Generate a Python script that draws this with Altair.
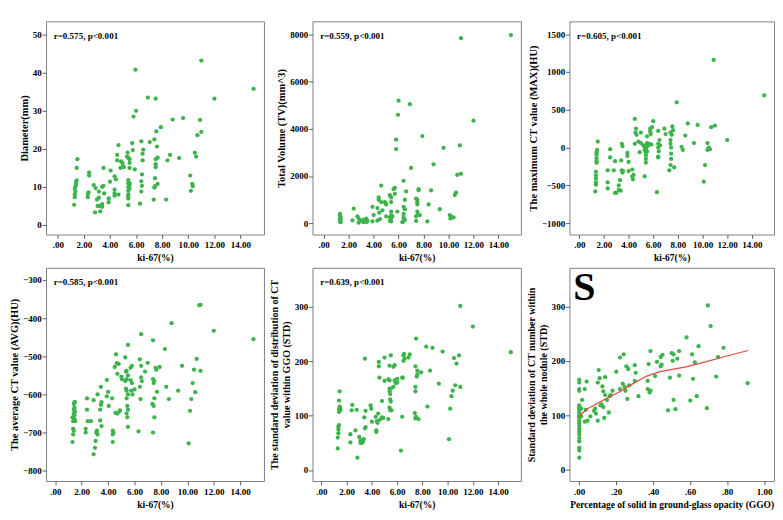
import altair as alt
import pandas as pd

# ---------------- data ----------------
KI67_TICKS = [0, 2, 4, 6, 8, 10, 12, 14]
GGO_TICKS = [0, 0.2, 0.4, 0.6, 0.8, 1.0]

DIAMETER = [(1.25,5.3),(1.3,7.3),(1.3,8.0),(1.35,8.8),(1.3,9.5),(1.35,10.2),(1.4,10.8),(1.4,11.3),(1.45,11.7),(1.45,15.0),(1.5,17.3),
(2.3,7.3),(2.3,8.0),(2.35,8.6),(2.4,13.0),(2.4,13.8),(2.75,10.5),(2.85,3.3),(2.9,9.7),(3.0,6.7),(3.05,5.0),
(3.15,8.8),(3.15,7.2),(3.2,5.0),(3.25,3.6),(3.4,10.0),(3.4,5.5),(3.4,4.8),(3.5,15.0),(3.5,10.3),(3.55,8.3),
(3.9,7.0),(3.9,6.0),(4.0,11.4),(4.05,14.3),(4.35,12.8),(4.35,9.3),(4.35,8.3),(4.35,7.7),(4.45,12.0),
(4.55,18.4),(4.55,17.0),(4.65,21.0),(4.65,8.0),(4.8,15.0),(4.85,16.7),(4.95,16.3),(5.0,15.5),(5.05,15.2),
(5.3,18.0),(5.35,19.0),(5.4,17.7),(5.4,11.8),(5.4,11.0),(5.4,10.0),(5.4,9.0),(5.4,8.0),(5.4,7.5),(5.4,7.0),(5.4,5.2),
(5.5,17.3),(5.5,16.3),(5.5,15.0),(5.5,11.0),(5.5,10.5),(5.5,9.5),(5.7,21.5),(5.75,19.7),(5.8,28.5),(5.9,14.6),
(6.0,30.0),(5.95,40.8),(6.3,5.6),(6.4,22.0),(6.45,13.3),(6.4,11.5),(6.45,10.3),(6.4,8.8),(6.55,19.8),(6.5,18.7),(6.5,17.0),
(6.9,33.5),(7.05,21.8),(7.35,6.7),(7.4,22.5),(7.45,12.3),(7.45,10.2),(7.4,9.8),(7.5,33.2),(7.55,24.6),(7.5,17.3),
(7.5,16.0),(7.5,15.2),(7.6,20.6),(7.65,17.7),(7.65,10.8),(7.9,25.7),(8.3,6.7),(8.4,17.0),(8.6,18.4),(8.8,27.7),
(9.3,17.6),(9.6,28.1),(10.15,13.0),(10.2,9.0),(10.3,10.8),(10.35,10.2),(10.5,19.0),(10.6,18.0),(10.7,23.6),
(10.9,27.6),(11.0,43.2),(11.0,24.5),(12.0,33.2),(15.0,35.8)]

VOLUME = [(1.3,400),(1.3,330),(1.35,280),(1.35,230),(1.3,170),(1.35,120),(1.3,80),(1.35,50),
(2.3,130),(2.4,620),(2.7,300),(2.8,200),(2.8,30),(3.0,100),(3.15,150),(3.2,80),(3.2,50),(3.3,100),(3.4,200),
(3.4,150),(3.45,60),(3.5,120),(3.9,700),(3.9,80),(4.0,350),(4.3,650),(4.3,120),(4.4,1100),(4.4,1000),(4.45,450),
(4.5,180),(4.6,1600),(4.6,900),(4.7,550),(4.9,900),(4.95,850),(5.0,800),(5.0,300),(5.3,1200),(5.35,1150),
(5.3,250),(5.3,100),(5.4,1100),(5.4,900),(5.4,500),(5.4,350),(5.4,200),(5.4,80),(5.5,300),(5.6,1450),(5.7,1500),
(5.7,1250),(5.8,3550),(5.8,3150),(5.9,500),(5.95,4600),(6.0,5200),(6.3,50),(6.4,1800),(6.4,700),(6.4,400),
(6.4,250),(6.4,100),(6.5,1000),(6.5,600),(6.5,150),(6.6,1350),(6.9,5050),(7.0,2350),(7.4,1050),(7.4,300),
(7.4,100),(7.5,1000),(7.5,900),(7.5,800),(7.5,500),(7.5,350),(7.6,1450),(7.6,1400),(7.7,350),(7.9,3700),
(8.3,80),(8.4,800),(8.6,1400),(8.8,2500),(9.3,600),(9.6,3200),(10.1,350),(10.15,200),(10.2,300),(10.4,250),
(10.5,1200),(10.6,1300),(10.7,2050),(10.9,3300),(11.0,7850),(11.0,2100),(12.0,4350),(15.0,7980)]

MAXCT = [(1.3,-580),(1.35,-490),(1.35,-460),(1.35,-410),(1.35,-370),(1.35,-320),(1.4,-200),(1.4,-180),(1.4,-140),
(1.4,-90),(1.4,-60),(1.45,-30),(1.5,80),(2.3,-300),(2.3,-460),(2.3,-540),(2.5,-130),(2.5,-20),(2.8,-300),
(2.9,-180),(2.9,-600),(3.0,-600),(3.2,-560),(3.2,-500),(3.3,-430),(3.35,-570),(3.4,-170),(3.45,-300),(3.45,50),
(3.5,20),(3.5,-330),(3.55,-310),(3.9,-70),(3.9,-110),(4.0,-190),(4.0,-310),(4.3,-290),(4.3,-380),(4.35,-420),
(4.4,-360),(4.5,380),(4.55,200),(4.5,50),(4.6,250),(4.65,170),(4.8,80),(4.9,-60),(5.0,200),(5.0,60),(5.2,30),
(5.3,-380),(5.3,10),(5.3,-30),(5.4,-200),(5.4,-150),(5.4,-100),(5.4,-60),(5.4,-20),(5.4,0),(5.4,20),(5.45,40),
(5.5,150),(5.5,60),(5.5,-50),(5.55,20),(5.7,50),(5.75,210),(5.75,250),(5.8,180),(5.85,40),(5.9,270),(6.0,350),
(6.3,-590),(6.4,220),(6.4,50),(6.4,0),(6.45,-50),(6.4,-120),(6.4,-130),(6.5,100),(6.55,30),(6.9,250),(7.0,180),
(7.3,-300),(7.4,200),(7.4,100),(7.4,50),(7.45,0),(7.45,-80),(7.45,-150),(7.4,-230),(7.55,280),(7.5,170),
(7.7,-260),(7.6,230),(7.9,600),(8.3,10),(8.4,-30),(8.6,160),(8.8,320),(9.3,60),(9.6,300),(10.1,-450),(10.2,-230),
(10.4,60),(10.4,-30),(10.5,0),(10.6,-20),(10.7,270),(10.9,1160),(11.0,290),(12.0,100),(15.0,690)]

AVGCT = [(1.3,-725),(1.35,-705),(1.35,-690),(1.35,-670),(1.3,-660),(1.4,-695),(1.4,-650),(1.4,-640),(1.4,-625),
(1.45,-620),(1.45,-635),(1.45,-655),(1.45,-665),(1.5,-620),(1.5,-645),(1.5,-670),(2.3,-690),(2.3,-700),(2.4,-610),
(2.4,-640),(2.45,-670),(2.7,-670),(2.9,-615),(2.9,-757),(3.0,-740),(3.05,-722),(3.1,-700),(3.15,-695),(3.2,-705),
(3.2,-600),(3.4,-668),(3.4,-640),(3.45,-627),(3.45,-580),(3.5,-620),(3.5,-683),(3.9,-562),(3.9,-605),(4.0,-593),
(4.05,-630),(4.3,-610),(4.35,-695),(4.35,-705),(4.35,-725),(4.4,-700),(4.5,-528),(4.55,-648),(4.6,-495),
(4.65,-518),(4.7,-546),(4.7,-650),(4.8,-520),(4.85,-645),(4.9,-642),(5.0,-553),(5.05,-560),(5.3,-503),(5.35,-540),
(5.3,-565),(5.35,-585),(5.4,-538),(5.4,-560),(5.4,-590),(5.4,-610),(5.45,-630),(5.4,-650),(5.45,-660),(5.5,-470),
(5.5,-550),(5.5,-600),(5.5,-640),(5.5,-685),(5.7,-530),(5.7,-563),(5.75,-590),(5.8,-525),(5.8,-570),(5.85,-600),
(6.0,-587),(6.3,-697),(6.4,-508),(6.4,-580),(6.45,-612),(6.5,-442),(6.5,-525),(6.5,-555),(6.55,-565),(6.8,-540),
(7.0,-517),(7.35,-625),(7.4,-458),(7.4,-560),(7.45,-570),(7.45,-630),(7.4,-700),(7.5,-565),(7.5,-610),(7.5,-660),
(7.6,-530),(7.65,-535),(7.7,-593),(7.9,-528),(8.3,-481),(8.4,-580),(8.6,-612),(8.8,-413),(9.3,-590),(9.6,-525),
(10.1,-728),(10.2,-643),(10.3,-612),(10.4,-570),(10.5,-535),(10.6,-594),(10.7,-507),(10.9,-366),(11.0,-365),
(11.0,-538),(12.0,-433),(15.0,-455)]

STD_GGO = [(1.3,40),(1.3,60),(1.35,68),(1.35,75),(1.35,80),(1.4,83),(1.4,107),(1.4,112),(1.45,117),(1.4,128),
(1.45,145),(1.5,110),(1.5,113),(2.3,51),(2.3,66),(2.4,110),(2.45,120),(2.7,73),(2.8,111),(2.85,23),(3.0,61),
(3.1,50),(3.1,55),(3.2,52),(3.2,50),(3.3,52),(3.35,57),(3.4,97),(3.45,205),(3.45,77),(3.5,109),(3.5,79),(3.9,119),
(3.95,113),(4.0,89),(4.3,98),(4.35,73),(4.35,70),(4.4,90),(4.45,87),(4.5,104),(4.55,199),(4.55,191),(4.6,170),
(4.65,93),(4.8,127),(4.8,97),(4.9,96),(5.0,207),(5.0,164),(5.3,94),(5.3,167),(5.4,192),(5.4,165),(5.4,150),
(5.4,145),(5.45,140),(5.45,130),(5.4,115),(5.45,110),(5.5,211),(5.5,150),(5.5,126),(5.55,110),(5.7,190),
(5.7,153),(5.8,193),(5.8,165),(5.9,160),(6.0,168),(6.0,161),(6.3,36),(6.4,170),(6.4,98),(6.5,211),(6.55,214),
(6.45,170),(6.5,201),(6.6,205),(6.9,207),(7.0,213),(7.4,105),(7.5,242),(7.45,191),(7.45,153),(7.45,145),
(7.45,95),(7.5,98),(7.6,183),(7.6,176),(7.55,172),(7.7,94),(7.9,180),(8.3,227),(8.4,117),(8.6,183),(8.8,225),
(9.3,159),(9.6,218),(10.1,57),(10.2,113),(10.3,136),(10.4,146),(10.5,206),(10.6,156),(10.7,196),(10.9,211),
(11.0,302),(11.0,153),(12.0,264),(15.0,217)]

STD_WHOLE = [(0,22),(0,35),(0,40),(0,52),(0,58),(0,65),(0,70),(0,75),(0,80),(0,85),(0,90),(0,95),(0,98),(0,100),
(0,105),(0,110),(0,112),(0,115),(0,118),(0,145),(0,148),(0,160),(0,165),
(0.01,112),(0.015,128),(0.01,98),(0.03,88),(0.035,110),(0.03,148),(0.045,90),(0.04,162),(0.06,98),(0.08,108),
(0.085,112),(0.09,103),(0.1,90),(0.1,160),(0.105,183),(0.11,168),(0.115,118),(0.12,120),(0.125,153),(0.13,144),
(0.13,115),(0.135,95),(0.14,137),(0.14,170),(0.15,128),(0.16,105),(0.165,135),(0.17,137),(0.18,145),(0.2,180),
(0.22,148),(0.22,206),(0.235,158),(0.24,212),(0.245,152),(0.25,145),(0.255,190),(0.26,130),(0.265,185),
(0.27,155),(0.3,163),(0.3,192),(0.305,178),(0.32,135),(0.37,148),(0.37,163),(0.375,194),(0.38,142),(0.385,145),
(0.385,218),(0.41,172),(0.42,198),(0.44,190),(0.445,193),(0.44,207),(0.45,211),(0.48,109),(0.49,169),(0.5,214),
(0.505,200),(0.51,128),(0.51,212),(0.52,111),(0.53,204),(0.54,218),(0.54,173),(0.58,243),(0.6,127),(0.61,212),
(0.615,167),(0.625,197),(0.635,135),(0.645,227),(0.69,113),(0.695,302),(0.71,264),(0.74,171),(0.75,207),
(0.78,224),(0.91,159)]

FIT_X = [0.0, 0.02, 0.05, 0.136, 0.224, 0.295, 0.365, 0.436, 0.577, 0.683, 0.788, 0.912]
FIT_Y = [97, 105, 113, 129, 144, 159, 172, 180, 189, 198, 208, 219]

NOTES = ["r=0.575, p<0.001", "r=0.559, p<0.001", "r=0.605, p<0.001",
         "r=0.585, p<0.001", "r=0.639, p<0.001"]

# ---------------- styling ----------------
GREEN = "#3cb44b"
RED = "#e8463c"
FONT = "Liberation Serif"
COL_W = [229, 219, 215]
H = 224

KI_EXPR = "datum.value == 0 ? '.00' : format(datum.value, '.2f')"
GGO_EXPR = "datum.value < 1 ? replace(format(datum.value, '.2f'), '0.', '.') : format(datum.value, '.2f')"


def panel(pairs, width, xdom, ydom, yvals, ytitle, xtitle, xvals, xexpr, note=None, extra=None, ytsize=11):
    df = pd.DataFrame(pairs, columns=["x", "y"])
    pts = alt.Chart(df).mark_circle(size=20, color=GREEN, opacity=1).encode(
        x=alt.X("x:Q", scale=alt.Scale(domain=xdom, nice=False, zero=False),
                axis=alt.Axis(title=xtitle, values=xvals, labelExpr=xexpr)),
        y=alt.Y("y:Q", scale=alt.Scale(domain=ydom, nice=False, zero=False),
                axis=alt.Axis(title=ytitle, values=yvals, format="d", titleFontSize=ytsize)),
    )
    layers = [pts]
    if extra is not None:
        layers.append(extra)
    if note is not None:
        t = alt.Chart(pd.DataFrame({"t": [note]})).mark_text(
            align="left", baseline="middle", font=FONT, fontWeight="bold", fontSize=9.5, color="black"
        ).encode(x=alt.value(8), y=alt.value(15), text="t:N")
        layers.append(t)
    return alt.layer(*layers).properties(width=width, height=H)


p1 = panel(DIAMETER, COL_W[0], [-0.9, 15.8], [-2.5, 53.5], [0, 10, 20, 30, 40, 50], "Diameter(mm)",
           "ki-67(%)", KI67_TICKS, KI_EXPR, NOTES[0])
p2 = panel(VOLUME, COL_W[1], [-0.9, 15.8], [-475, 8560], [0, 2000, 4000, 6000, 8000], "Total Volume (TV)(mm^3)",
           "ki-67(%)", KI67_TICKS, KI_EXPR, NOTES[1])
p3 = panel(MAXCT, COL_W[2], [-0.8, 15.8], [-1150, 1670], [-1000, -500, 0, 500, 1000, 1500],
           "The maximum CT value (MAX)(HU)", "ki-67(%)", KI67_TICKS, KI_EXPR, NOTES[2])
p4 = panel(AVGCT, COL_W[0], [-0.7, 15.8], [-827, -268], [-800, -700, -600, -500, -400, -300],
           "The average CT value (AVG)(HU)", "ki-67(%)", KI67_TICKS, KI_EXPR, NOTES[3])
p5 = panel(STD_GGO, COL_W[1], [-0.7, 15.8], [-20, 372], [0, 100, 200, 300],
           ["The standard deviation of distribution of CT", "value within GGO (STD)"],
           "ki-67(%)", KI67_TICKS, KI_EXPR, NOTES[4], ytsize=10.5)

fit = alt.Chart(pd.DataFrame({"x": FIT_X, "y": FIT_Y})).mark_line(color=RED, strokeWidth=1.3).encode(
    x="x:Q", y="y:Q")
letter = alt.Chart(pd.DataFrame({"t": ["S"]})).mark_text(
    align="left", baseline="top", font=FONT, fontWeight="bold", fontSize=42, color="black"
).encode(x=alt.value(4), y=alt.value(1), text="t:N")
p6 = panel(STD_WHOLE, COL_W[2], [-0.053, 1.053], [-21, 371], [0, 100, 200, 300],
           ["Standard deviation of CT number within", "the whole nodule (STD)"],
           "Percentage of solid in ground-glass opacity (GGO)", GGO_TICKS, GGO_EXPR, None,
           alt.layer(fit, letter), ytsize=10.5)

chart = alt.concat(p1, p2, p3, p4, p5, p6, columns=3, spacing=4).properties(
    padding={"left": 0, "top": 0, "right": 0, "bottom": 0},
).configure_view(stroke="#7a7a7a", strokeWidth=1).configure_axis(
    grid=False, domain=False, ticks=True, tickSize=4, tickColor="#555",
    labelFont=FONT, labelFontWeight="bold", labelFontSize=9.5, labelColor="black", labelPadding=1,
    titleFont=FONT, titleFontWeight="bold", titleFontSize=11, titleColor="black", titlePadding=3,
).configure_axisX(titleFontSize=10, titlePadding=4, labelPadding=2)

chart.save("out.html", embed_options={"renderer": "svg", "actions": False})
